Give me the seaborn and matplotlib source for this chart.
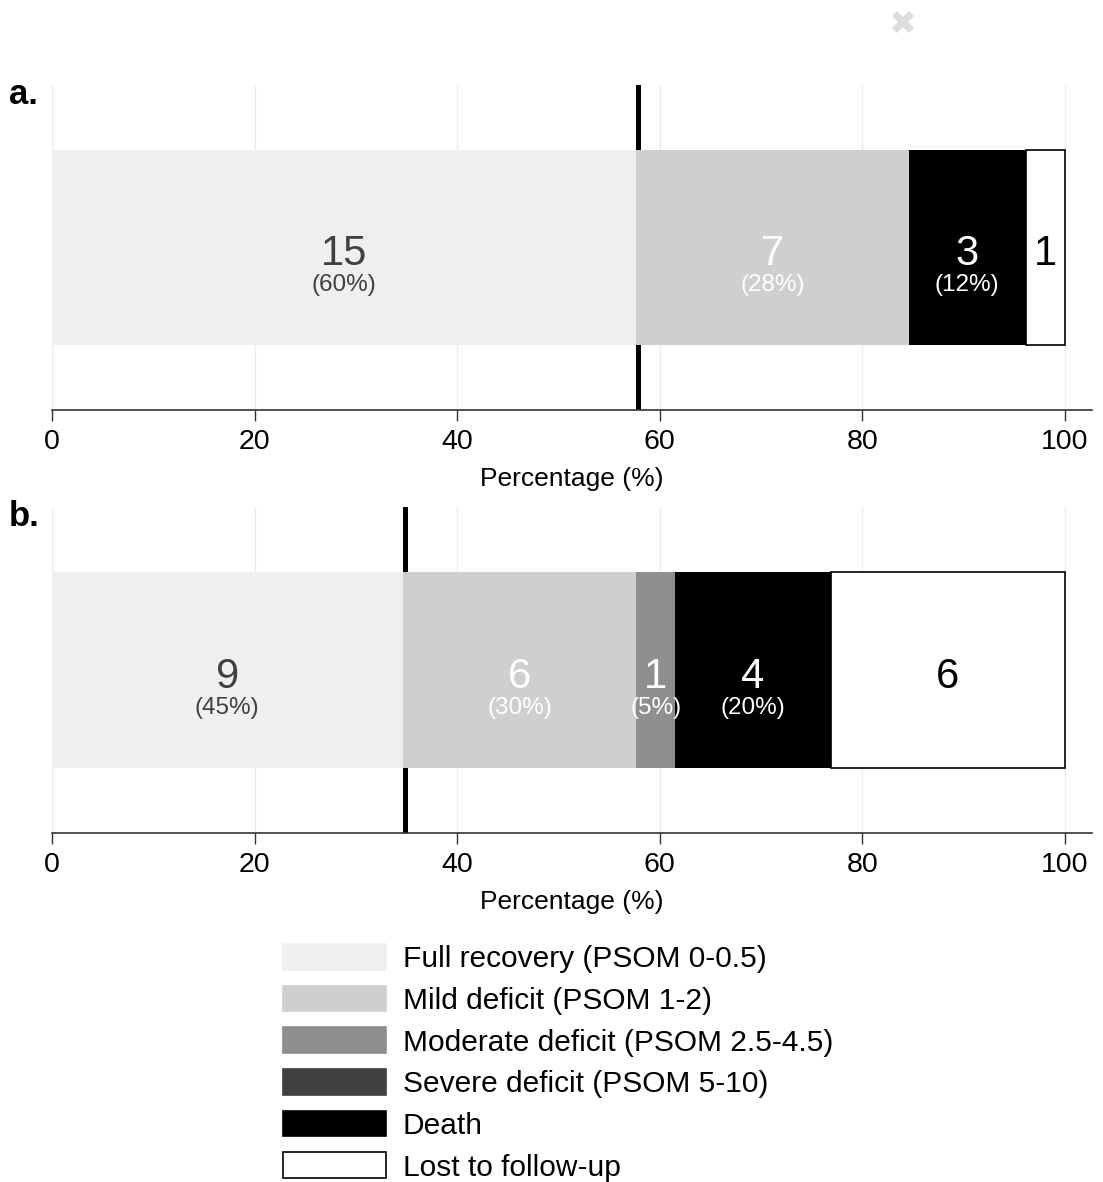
import pandas as pd
import seaborn as sns
import matplotlib.pyplot as plt
from matplotlib.patches import Patch

# outcome categories, in stacking order
categories = [
    "Full recovery (PSOM 0-0.5)",
    "Mild deficit (PSOM 1-2)",
    "Moderate deficit (PSOM 2.5-4.5)",
    "Severe deficit (PSOM 5-10)",
    "Death",
    "Lost to follow-up",
]
colors = ["#efefef", "#cfcfcf", "#8e8e8e", "#404040", "#000000", "#ffffff"]
text_colors = ["#404040", "white", "white", "white", "white", "black"]

counts_a = [15, 7, 0, 0, 3, 1]
counts_b = [9, 6, 1, 0, 4, 6]
ref_line = [57.9, 34.9]
panel_labels = ["a.", "b."]
xticks = [0, 20, 40, 60, 80, 100]

sns.set_theme(style="white")
plt.rcParams["font.family"] = ["Liberation Sans", "DejaVu Sans"]
plt.rcParams["text.color"] = "black"
plt.rcParams["axes.labelcolor"] = "black"
plt.rcParams["xtick.color"] = "black"

fig = plt.figure(figsize=(11.03, 11.82), dpi=100)
W, H = 1103, 1182
boxes = [(85, 410), (507, 833)]
palette = dict(zip(categories, colors))

for counts, ref, lab, (top, bot) in zip([counts_a, counts_b], ref_line, panel_labels, boxes):
    ax = fig.add_axes([52 / W, 1 - bot / H, (1092 - 52) / W, (bot - top) / H])
    df = pd.DataFrame({"category": categories, "n": counts, "group": "all"})
    df["pct"] = 100 * df.n / df.n.sum()
    df["left"] = df.pct.cumsum() - df.pct
    known = df.n.iloc[:-1].sum()

    sns.barplot(data=df, x="pct", y="group", hue="category", hue_order=categories,
                palette=palette, dodge=False, width=0.6, orient="h", legend=False,
                errorbar=None, saturation=1, linewidth=0, ax=ax)
    # shift each segment so they stack
    for cont, left, col in zip(ax.containers, df.left, colors):
        for p in cont:
            p.set_x(left)
            if col == "#ffffff":
                p.set_edgecolor("black")
                p.set_linewidth(1.2)
            p.set_zorder(2)

    ax.axvline(ref, color="black", lw=3.6, zorder=1)

    for i, row in df.iterrows():
        if row.n == 0:
            continue
        cx = row.left + row.pct / 2
        ax.text(cx, 0.055, str(row.n), ha="center", va="baseline",
                fontsize=30, color=text_colors[i], zorder=3)
        if i < len(categories) - 1:
            ax.text(cx, 0.135, "(%d%%)" % round(100 * row.n / known), ha="center",
                    va="baseline", fontsize=17.5, color=text_colors[i], zorder=3)

    ax.set_xlim(0, 102.7)
    ax.set_ylim(0.5, -0.5)
    ax.set_yticks([])
    ax.set_ylabel("")
    ax.set_xticks(xticks)
    ax.set_xlabel("Percentage (%)", fontsize=19, labelpad=8)
    ax.tick_params(axis="x", labelsize=20.5, length=8, width=1, color="#333333",
                   labelcolor="black", direction="out", bottom=True, pad=6)
    ax.grid(axis="x", color="#e4edf2", lw=1)
    ax.set_axisbelow(True)
    for s in ["top", "left", "right"]:
        ax.spines[s].set_visible(False)
    ax.spines["bottom"].set_color("#333333")
    ax.spines["bottom"].set_linewidth(1.2)

    fig.text(9 / W, 1 - (top + 9) / H, lab, fontsize=25, fontweight="bold",
             va="center", ha="left")

handles = [Patch(facecolor=c, edgecolor="black" if c == "#ffffff" else c, lw=1.2)
           for c in colors]
fig.legend(handles, categories, loc="upper left", bbox_to_anchor=(283 / W, 1 - 944 / H),
           frameon=False, fontsize=21.5, handlelength=3.45, handleheight=0.95,
           handletextpad=0.56, labelspacing=0.42, borderpad=0, borderaxespad=0)

fig.text(902 / W, 1 - 25 / H, "\u2716", fontsize=24, color="#dcdcdc",
         ha="center", va="center", family="DejaVu Sans")

plt.savefig("out.png", dpi=100)
